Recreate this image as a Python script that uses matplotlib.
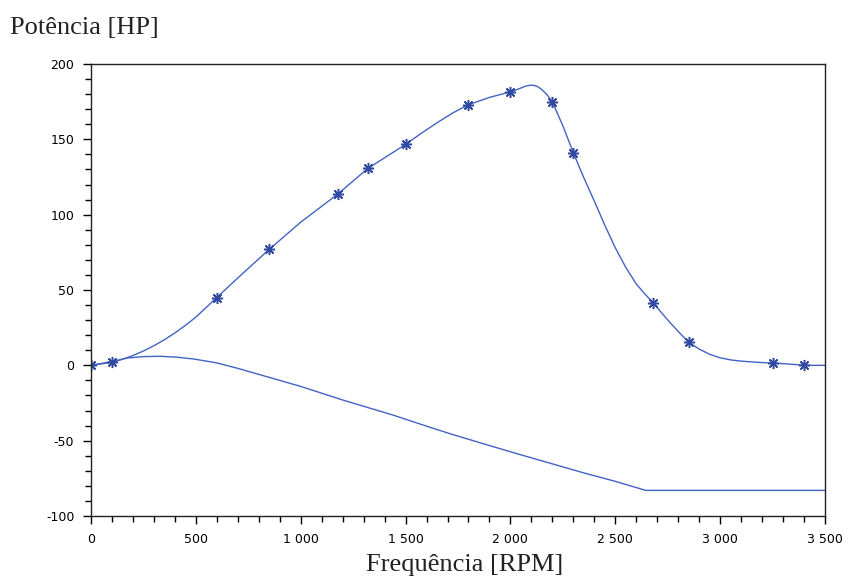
import matplotlib
matplotlib.use('Agg')
import matplotlib.pyplot as plt
from matplotlib.ticker import MultipleLocator, FuncFormatter

# measured points (asterisks)
rpm_pts = [0, 100, 600, 850, 1180, 1320, 1500, 1800, 2000, 2200, 2300, 2680, 2850, 3250, 3400]
hp_pts = [0, 2, 45, 77, 114, 130.7, 146.6, 173, 181.5, 174.7, 141, 41.6, 15.3, 1.5, 0]

# smooth power curve
rpm_curve = [0, 50, 100, 150, 200, 250, 300, 350, 400, 450, 500, 550, 600, 700, 850,
             1000, 1180, 1320, 1500, 1575, 1650, 1725, 1800, 1900, 2000, 2040, 2070, 2090,
             2110, 2130, 2150, 2175, 2200, 2250, 2300, 2350, 2400, 2450, 2500, 2550, 2600,
             2640, 2680, 2720, 2760, 2800, 2850, 2900, 2950, 3000, 3050, 3100, 3175, 3250,
             3325, 3400, 3500]
hp_curve = [0, 1, 2, 4, 6.5, 9.5, 13, 17, 21.5, 26.5, 32, 38.5, 45, 58, 77,
            95, 114, 130.7, 146.6, 154, 161, 167.5, 173, 177.8, 181.5, 183.5, 185.2, 185.8,
            185.9, 185, 183, 179.5, 174.7, 159, 141, 124.5, 109, 93, 78, 65, 54,
            47.5, 41.6, 35, 28.5, 22.5, 15.3, 10.8, 7.3, 5, 3.6, 2.8, 2, 1.5,
            0.9, 0, 0]

# lower curve
rpm_low = [0, 100, 170, 250, 330, 410, 490, 550, 600, 700, 800, 900, 1000, 1100, 1200,
           1320, 1440, 1570, 1710, 1870, 2030, 2190, 2350, 2500, 2645, 3500]
hp_low = [0, 2.5, 4.8, 5.8, 6, 5.4, 4.2, 2.8, 1.6, -2, -6, -10, -14, -18.5, -23,
          -28, -33, -39, -45.3, -52, -58.6, -65, -71.4, -77, -83, -83]

fig = plt.figure(figsize=(8.48, 5.79), dpi=100)
ax = fig.add_axes([0.1073, 0.1088, 0.8656, 0.7807])

line_c = '#4363c4'
ax.plot(rpm_curve, hp_curve, '-', color=line_c, lw=1.0)
ax.plot(rpm_low, hp_low, '-', color=line_c, lw=1.0)
ax.plot(rpm_pts, hp_pts, ls='none', marker=(8, 2, 0), ms=8, mew=1.1, color='#2f4aa0')

ax.set_xlim(0, 3500)
ax.set_ylim(-100, 200)
ax.xaxis.set_major_locator(MultipleLocator(500))
ax.xaxis.set_minor_locator(MultipleLocator(100))
ax.yaxis.set_major_locator(MultipleLocator(50))
ax.yaxis.set_minor_locator(MultipleLocator(10))
ax.xaxis.set_major_formatter(FuncFormatter(lambda v, p: f'{int(v):,}'.replace(',', ' ')))
ax.yaxis.set_major_formatter(FuncFormatter(lambda v, p: f'{int(v)}'))

ax.tick_params(which='major', direction='out', length=6, width=1, labelsize=9, pad=6)
ax.tick_params(which='minor', direction='out', length=4, width=1)
for lab in ax.get_xticklabels() + ax.get_yticklabels():
    lab.set_family('DejaVu Sans')
for s in ax.spines.values():
    s.set_linewidth(1.0)
    s.set_color('#222222')

fig.text(10 / 848, 1 - 28 / 579, 'Potência [HP]', family='Liberation Serif', fontsize=19,
         ha='left', va='center', color='#222222')
fig.text(465 / 848, 1 - 565 / 579, 'Frequência [RPM]', family='Liberation Serif', fontsize=19,
         ha='center', va='center', color='#222222')

fig.savefig('out.png', dpi=100)
